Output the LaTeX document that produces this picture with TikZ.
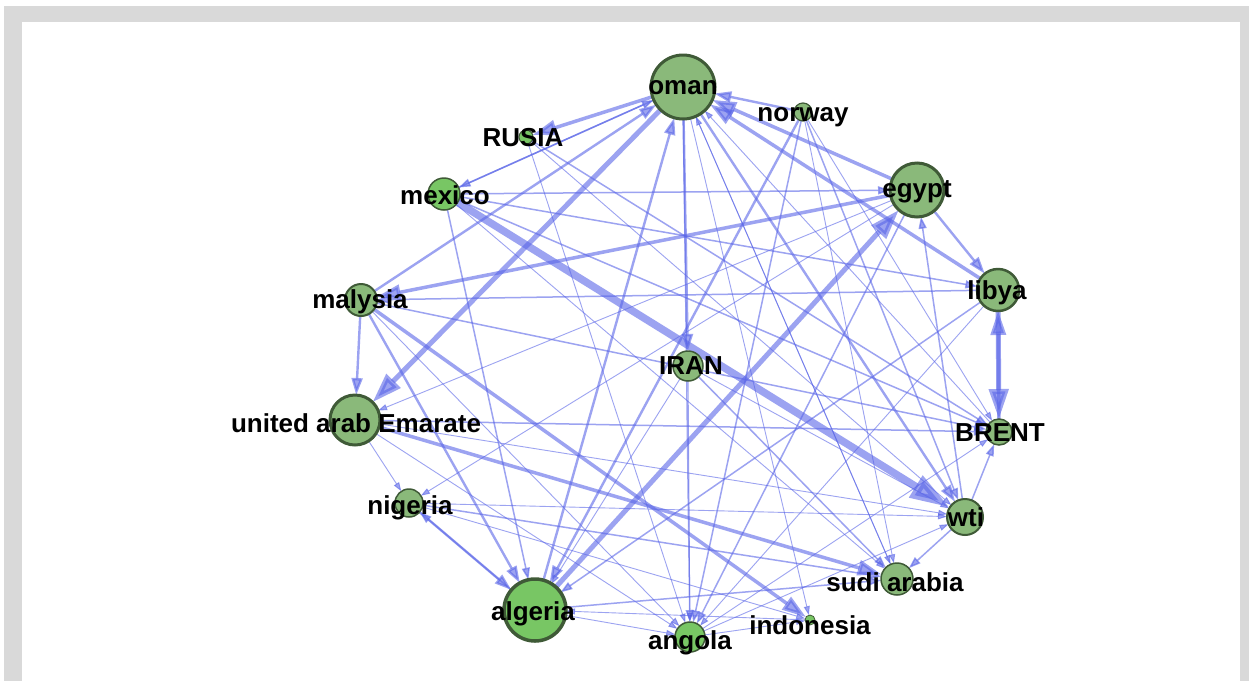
\documentclass[tikz,border=0pt]{standalone}
\usepackage{fontspec}
\setmainfont{Liberation Sans}
\usetikzlibrary{arrows.meta}
\pgfdeclarelayer{bgl}
\pgfdeclarelayer{edges}
\pgfsetlayers{bgl,edges,main}
\definecolor{framegray}{HTML}{D9D9D9}
\definecolor{edgeblue}{HTML}{5A66E8}
\definecolor{nodemuted}{HTML}{8AB97A}
\definecolor{nodebright}{HTML}{78C664}
\definecolor{nodeborder}{HTML}{3F5A37}
\tikzset{
  vtx/.style={circle, inner sep=0pt, outer sep=0pt, draw=nodeborder, fill=nodemuted, minimum size=#1},
  bright/.style={fill=nodebright},
  lbl/.style={font=\fontsize{26}{28}\selectfont\bfseries, text=black, inner sep=0pt},
  e/.style={draw=edgeblue, opacity=0.6},
  wa/.style={e, line width=0.9pt, -{Triangle[length=9pt,width=6pt]}},
  wb/.style={e, line width=1.5pt, -{Triangle[length=12pt,width=8pt]}},
  wc/.style={e, line width=2.4pt, -{Triangle[length=17pt,width=11pt]}},
  wd/.style={e, line width=3.5pt, -{Triangle[length=24pt,width=15pt]}},
  we/.style={e, line width=5pt, -{Triangle[length=30pt,width=19pt]}},
  wf/.style={e, line width=7.5pt, -{Triangle[length=40pt,width=24pt]}},
}
\begin{document}
\begin{tikzpicture}[x=1pt,y=-1pt]
\useasboundingbox (0,0) rectangle (1249,681);
\begin{pgfonlayer}{bgl}
  \fill[framegray] (4,6) rectangle (1249,681);
  \fill[white] (22,22) rectangle (1240,681);
\end{pgfonlayer}
% vertices
\node[vtx=64pt, line width=3pt] (oman) at (683,87) {};
\node[vtx=18pt, line width=1.2pt] (norway) at (803,112) {};
\node[vtx=14pt, line width=1pt, bright] (rusia) at (526,137) {};
\node[vtx=32pt, line width=1.5pt, bright] (mexico) at (444,194) {};
\node[vtx=54pt, line width=3pt] (egypt) at (917,190) {};
\node[vtx=42pt, line width=2.5pt] (libya) at (998,290) {};
\node[vtx=32pt, line width=2pt] (malysia) at (361,300) {};
\node[vtx=30pt, line width=1.5pt] (iran) at (688,366) {};
\node[vtx=50pt, line width=3pt] (uae) at (355,420) {};
\node[vtx=26pt, line width=1.5pt] (brent) at (999,432) {};
\node[vtx=28pt, line width=1.5pt] (nigeria) at (409,503) {};
\node[vtx=36pt, line width=2pt] (wti) at (965,517) {};
\node[vtx=32pt, line width=1.5pt] (sudi) at (897,579) {};
\node[vtx=62pt, line width=3.5pt, bright] (algeria) at (535,610) {};
\node[vtx=30pt, line width=1.5pt, bright] (angola) at (690,637) {};
\node[vtx=10pt, line width=0.8pt, bright] (indo) at (810,620) {};
% labels
\node[lbl] (oman-l) at (683,88) {oman};
\node[lbl] (norway-l) at (803,117) {norway};
\node[lbl] (rusia-l) at (523,138) {RUSIA};
\node[lbl] (mexico-l) at (445,195) {mexico};
\node[lbl] (egypt-l) at (917,192) {egypt};
\node[lbl] (libya-l) at (997,293) {libya};
\node[lbl] (malysia-l) at (360,302) {malysia};
\node[lbl] (iran-l) at (691,366) {IRAN};
\node[lbl] (uae-l) at (356,423) {united arab Emarate};
\node[lbl] (brent-l) at (1000,433) {BRENT};
\node[lbl] (nigeria-l) at (410,508) {nigeria};
\node[lbl] (wti-l) at (966,517) {wti};
\node[lbl] (sudi-l) at (895,582) {sudi arabia};
\node[lbl] (algeria-l) at (533,614) {algeria};
\node[lbl] (angola-l) at (690,643) {angola};
\node[lbl] (indo-l) at (810,625) {indonesia};
% edges
\begin{pgfonlayer}{edges}
\draw[wf] (mexico) -- (wti);
\draw[we] (algeria) -- (egypt);
\draw[we] (oman) -- (uae);
\draw[we] (libya) -- (brent);
\draw[wd] (brent) -- (libya);
\draw[wd] (egypt) -- (oman);
\draw[wd] (libya) -- (oman);
\draw[wd] (egypt) -- (malysia);
\draw[wd] (malysia) -- (indo);
\draw[wd] (uae) -- (sudi);
\draw[wc] (oman) -- (iran);
\draw[wd] (oman) -- (rusia);
\draw[wc] (malysia) -- (uae);
\draw[wb] (mexico) -- (egypt);
\draw[wc] (egypt) -- (libya);
\draw[wc] (norway) -- (algeria);
\draw[wc] (algeria) -- (oman);
\draw[wb] (mexico) -- (brent);
\draw[wb] (mexico) -- (libya);
\draw[wb] (malysia) -- (brent);
\draw[wc] (malysia) -- (oman);
\draw[wb] (mexico) -- (oman);
\draw[wb] (rusia) -- (brent);
\draw[wa] (rusia) -- (wti);
\draw[wa] (rusia) -- (angola);
\draw[wb] (oman) -- (angola);
\draw[wa] (oman) -- (sudi);
\draw[wc] (oman) -- (wti);
\draw[wa] (oman) -- (indo);
\draw[wb] (norway) -- (angola);
\draw[wa] (norway) -- (sudi);
\draw[wb] (norway) -- (wti);
\draw[wa] (norway) -- (brent);
\draw[wc] (norway) -- (oman);
\draw[wa] (egypt) -- (nigeria);
\draw[wb] (egypt) -- (angola);
\draw[wb] (wti) -- (egypt);
\draw[wb] (wti) -- (brent);
\draw[wb] (libya) -- (algeria);
\draw[wa] (libya) -- (angola);
\draw[wa] (uae) -- (wti);
\draw[wb] (uae) -- (brent);
\draw[wa] (uae) -- (angola);
\draw[wc] (nigeria) -- (algeria);
\draw[wb] (algeria) -- (nigeria);
\draw[wb] (mexico) -- (algeria);
\draw[wc] (malysia) -- (algeria);
\draw[wa] (algeria) -- (angola);
\draw[wb] (algeria) -- (sudi);
\draw[wa] (indo) -- (algeria);
\draw[wb] (nigeria) -- (sudi);
\draw[wa] (nigeria) -- (indo);
\draw[wa] (nigeria) -- (wti);
\draw[wa] (iran) -- (angola);
\draw[wb] (iran) -- (sudi);
\draw[wa] (iran) -- (algeria);
\draw[wa] (iran) -- (wti);
\draw[wb] (wti) -- (sudi);
\draw[wa] (angola) -- (wti);
\draw[wa] (angola) -- (brent);
\draw[wa] (angola) -- (indo);
\draw[wa] (sudi) -- (oman);
\draw[wa] (brent) -- (oman);
\draw[wa] (mexico) -- (sudi);
\draw[wb] (oman) -- (mexico);
\draw[wa] (egypt) -- (uae);
\draw[wb] (libya) -- (malysia);
\draw[wa] (malysia) -- (angola);
\draw[wa] (uae) -- (nigeria);
\end{pgfonlayer}
\end{tikzpicture}
\end{document}
